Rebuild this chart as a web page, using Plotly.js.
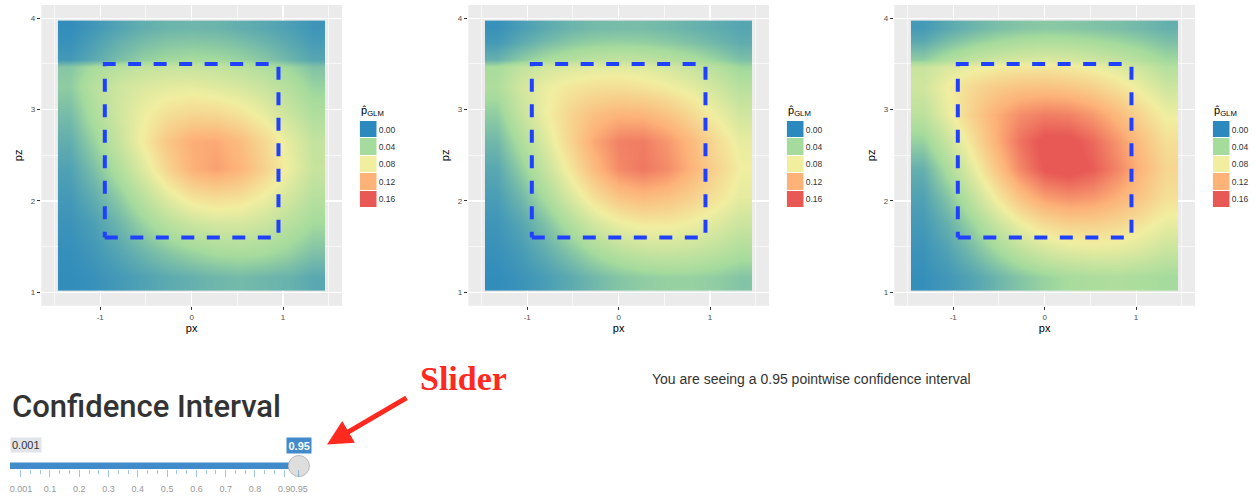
<!DOCTYPE html>
<html>
<head>
<meta charset="utf-8">
<script src="https://cdn.plot.ly/plotly-3.0.1.min.js"></script>
<style>
  html, body { margin: 0; padding: 0; background: #fff; }
  #myDiv { width: 1257px; height: 497px; }
</style>
</head>
<body>
<div id="myDiv"></div>
<script>
// grid of the fitted surface
var gridX = [-1.33, -1.065, -0.8, -0.533, -0.266, 0, 0.266, 0.533, 0.8, 1.065, 1.33];
var gridY = [1.16, 1.45, 1.75, 2.05, 2.35, 2.65, 2.95, 3.25, 3.47, 3.55, 3.75, 3.9];

// left panel
var probLower = [
  [0.002, 0.004, 0.008, 0.012, 0.016, 0.019, 0.022, 0.024, 0.022, 0.020, 0.015],
  [0.003, 0.007, 0.014, 0.022, 0.030, 0.037, 0.042, 0.044, 0.042, 0.036, 0.028],
  [0.005, 0.011, 0.022, 0.036, 0.050, 0.060, 0.065, 0.065, 0.060, 0.050, 0.040],
  [0.008, 0.018, 0.033, 0.052, 0.072, 0.088, 0.093, 0.090, 0.078, 0.064, 0.050],
  [0.012, 0.027, 0.047, 0.070, 0.097, 0.120, 0.128, 0.118, 0.098, 0.077, 0.058],
  [0.018, 0.036, 0.058, 0.082, 0.106, 0.122, 0.124, 0.113, 0.094, 0.074, 0.056],
  [0.025, 0.045, 0.063, 0.078, 0.090, 0.096, 0.095, 0.088, 0.075, 0.060, 0.046],
  [0.033, 0.050, 0.062, 0.069, 0.073, 0.074, 0.071, 0.066, 0.058, 0.048, 0.036],
  [0.030, 0.042, 0.050, 0.055, 0.058, 0.058, 0.056, 0.052, 0.046, 0.038, 0.028],
  [0.008, 0.016, 0.026, 0.034, 0.039, 0.041, 0.040, 0.036, 0.030, 0.022, 0.014],
  [0.004, 0.011, 0.019, 0.025, 0.029, 0.030, 0.029, 0.026, 0.021, 0.015, 0.009],
  [0.002, 0.007, 0.013, 0.018, 0.021, 0.022, 0.021, 0.018, 0.015, 0.011, 0.006]
];

// middle panel
var probFit = [
  [0.002, 0.005, 0.010, 0.016, 0.023, 0.029, 0.033, 0.035, 0.035, 0.033, 0.029],
  [0.004, 0.009, 0.018, 0.029, 0.041, 0.051, 0.057, 0.059, 0.057, 0.052, 0.045],
  [0.006, 0.014, 0.028, 0.046, 0.064, 0.077, 0.083, 0.083, 0.078, 0.070, 0.060],
  [0.010, 0.023, 0.043, 0.067, 0.090, 0.108, 0.114, 0.110, 0.100, 0.088, 0.074],
  [0.015, 0.034, 0.058, 0.085, 0.114, 0.138, 0.146, 0.137, 0.118, 0.098, 0.080],
  [0.023, 0.045, 0.070, 0.097, 0.124, 0.142, 0.144, 0.132, 0.114, 0.093, 0.075],
  [0.033, 0.057, 0.079, 0.097, 0.111, 0.118, 0.117, 0.109, 0.094, 0.078, 0.063],
  [0.045, 0.064, 0.077, 0.085, 0.089, 0.090, 0.087, 0.081, 0.073, 0.062, 0.050],
  [0.042, 0.055, 0.064, 0.069, 0.072, 0.072, 0.070, 0.065, 0.058, 0.049, 0.038],
  [0.020, 0.032, 0.042, 0.049, 0.053, 0.055, 0.054, 0.050, 0.044, 0.036, 0.027],
  [0.008, 0.016, 0.024, 0.030, 0.034, 0.035, 0.034, 0.031, 0.027, 0.022, 0.017],
  [0.004, 0.010, 0.016, 0.021, 0.024, 0.025, 0.025, 0.023, 0.020, 0.017, 0.014]
];

// right panel
var probUpper = [
  [0.003, 0.007, 0.013, 0.021, 0.029, 0.036, 0.041, 0.044, 0.045, 0.043, 0.040],
  [0.005, 0.012, 0.024, 0.038, 0.052, 0.063, 0.069, 0.072, 0.071, 0.066, 0.058],
  [0.008, 0.019, 0.037, 0.058, 0.078, 0.093, 0.100, 0.100, 0.095, 0.086, 0.075],
  [0.012, 0.029, 0.054, 0.083, 0.110, 0.130, 0.136, 0.132, 0.120, 0.106, 0.090],
  [0.019, 0.043, 0.073, 0.106, 0.139, 0.162, 0.168, 0.158, 0.139, 0.116, 0.096],
  [0.035, 0.058, 0.088, 0.120, 0.148, 0.165, 0.165, 0.152, 0.132, 0.110, 0.090],
  [0.052, 0.075, 0.100, 0.121, 0.136, 0.143, 0.141, 0.131, 0.114, 0.095, 0.078],
  [0.062, 0.080, 0.094, 0.103, 0.108, 0.109, 0.106, 0.099, 0.088, 0.075, 0.061],
  [0.058, 0.068, 0.076, 0.081, 0.084, 0.085, 0.083, 0.078, 0.070, 0.060, 0.048],
  [0.033, 0.045, 0.055, 0.062, 0.066, 0.068, 0.066, 0.062, 0.056, 0.048, 0.039],
  [0.016, 0.026, 0.034, 0.040, 0.044, 0.046, 0.045, 0.042, 0.038, 0.033, 0.027],
  [0.008, 0.015, 0.021, 0.026, 0.029, 0.031, 0.030, 0.028, 0.026, 0.023, 0.019]
];

var legendBreaks = [0, 0.04, 0.08, 0.12, 0.16];
var legendLabels = ['0.00', '0.04', '0.08', '0.12', '0.16'];

// strike zone box
var zoneX = [-0.95, 0.95, 0.95, -0.95, -0.95];
var zoneY = [1.6, 1.6, 3.5, 3.5, 1.6];

// slider
var sliderMin = 0.001;
var sliderValue = 0.95;
var sliderTicks = [0.001, 0.1, 0.2, 0.3, 0.4, 0.5, 0.6, 0.7, 0.8, 0.9, 0.95];
var sliderLabels = ['0.001', '0.1', '0.2', '0.3', '0.4', '0.5', '0.6', '0.7', '0.8', '0.9', '0.95'];

var W = 1257, H = 497;
function fx(p) { return p / W; }
function fy(p) { return 1 - p / H; }

var spectral = [
  [0, 'rgb(44,137,189)'],
  [0.25, 'rgb(165,219,157)'],
  [0.5, 'rgb(241,238,160)'],
  [0.75, 'rgb(253,178,120)'],
  [1, 'rgb(232,88,85)']
];

var panels = [probLower, probFit, probUpper];
var panelLeft = [41.3, 468.3, 894.3];
var panelW = 300.7;
var panelTop = 5, panelBottom = 305.7;

var data = [];
var layout = {
  width: W,
  height: H,
  margin: {l: 0, r: 0, t: 0, b: 0},
  paper_bgcolor: '#fff',
  plot_bgcolor: 'rgba(0,0,0,0)',
  font: {family: 'Liberation Sans, Arial, sans-serif', color: '#333'},
  showlegend: false,
  shapes: [],
  annotations: []
};

panels.forEach(function (z, i) {
  var n = i + 1;
  var sx = n === 1 ? '' : String(n);
  var lx = String(n + 3);
  var left = panelLeft[i];

  data.push({
    type: 'heatmap',
    x: gridX, y: gridY, z: z,
    xaxis: 'x' + sx, yaxis: 'y' + sx,
    colorscale: spectral, zmin: 0, zmax: 0.16,
    zsmooth: 'best', showscale: false, hoverinfo: 'skip'
  });
  data.push({
    type: 'scatter', mode: 'lines',
    x: zoneX, y: zoneY,
    xaxis: 'x' + sx, yaxis: 'y' + sx,
    line: {color: '#2040ff', width: 4, dash: '13px,12.5px'},
    hoverinfo: 'skip'
  });
  // legend keys
  data.push({
    type: 'heatmap',
    x: [0], y: legendLabels,
    z: legendBreaks.map(function (v) { return [v]; }),
    xaxis: 'x' + lx, yaxis: 'y' + lx,
    colorscale: spectral, zmin: 0, zmax: 0.16,
    ygap: 1, showscale: false, hoverinfo: 'skip'
  });

  layout['xaxis' + sx] = {
    domain: [fx(left), fx(left + panelW)],
    range: [-1.645, 1.645],
    anchor: 'y' + sx,
    tickvals: [-1, 0, 1], ticktext: ['-1', '0', '1'],
    ticks: 'outside', ticklen: 3.5, tickwidth: 1, tickcolor: '#333',
    tickfont: {size: 8, color: '#4d4d4d'},
    showgrid: true, gridcolor: '#fff', gridwidth: 1.1,
    minor: {tickvals: [-1.5, -0.5, 0.5, 1.5], showgrid: true, gridcolor: '#fff', gridwidth: 0.6, ticks: ''},
    zeroline: false, showline: false, fixedrange: true,
    title: {text: 'px', font: {size: 11, color: '#000'}, standoff: 3}
  };
  layout['yaxis' + sx] = {
    domain: [fy(panelBottom), fy(panelTop)],
    range: [0.853, 4.146],
    anchor: 'x' + sx,
    tickvals: [1, 2, 3, 4], ticktext: ['1', '2', '3', '4'],
    ticks: 'outside', ticklen: 3.5, tickwidth: 1, tickcolor: '#333',
    tickfont: {size: 8, color: '#4d4d4d'},
    showgrid: true, gridcolor: '#fff', gridwidth: 1.1,
    minor: {tickvals: [1.5, 2.5, 3.5], showgrid: true, gridcolor: '#fff', gridwidth: 0.6, ticks: ''},
    zeroline: false, showline: false, fixedrange: true,
    title: {text: 'pz', font: {size: 11, color: '#000'}, standoff: 5}
  };
  layout.shapes.push({
    type: 'rect', xref: 'x' + sx + ' domain', yref: 'y' + sx + ' domain',
    x0: 0, x1: 1, y0: 0, y1: 1,
    fillcolor: '#ebebeb', line: {width: 0}, layer: 'below'
  });

  var keyLeft = left + panelW + 17.7;
  layout['xaxis' + lx] = {
    domain: [fx(keyLeft), fx(keyLeft + 17)],
    range: [-0.5, 0.5], anchor: 'y' + lx, visible: false, fixedrange: true
  };
  layout['yaxis' + lx] = {
    domain: [fy(208), fy(121)],
    type: 'category', autorange: 'reversed', side: 'right', anchor: 'x' + lx,
    showgrid: false, zeroline: false, showline: false, ticks: '',
    tickfont: {size: 8.5, color: '#333'}, ticklabelstandoff: 1, fixedrange: true
  };
  layout.annotations.push({
    xref: 'paper', yref: 'paper', x: fx(keyLeft - 1), y: fy(111),
    xanchor: 'left', yanchor: 'middle', showarrow: false,
    text: 'p\u0302<sub>GLM</sub>', font: {size: 11, color: '#000'}
  });
});

// slider widget
data.push({
  type: 'scatter', mode: 'lines',
  x: [-0.0365, sliderValue], y: [0, 0],
  xaxis: 'x7', yaxis: 'y7',
  line: {color: '#428bca', width: 7},
  cliponaxis: false, hoverinfo: 'skip'
});
data.push({
  type: 'scatter', mode: 'markers',
  x: [sliderValue], y: [0],
  xaxis: 'x7', yaxis: 'y7',
  marker: {size: 21, color: '#dedede', line: {color: '#b8b8b8', width: 1}},
  cliponaxis: false, hoverinfo: 'skip'
});

var sliderMinor = [];
for (var k = 0; k < sliderTicks.length - 2; k++) {
  var a = sliderTicks[k], b = sliderTicks[k + 1];
  sliderMinor.push(a + (b - a) / 3, a + 2 * (b - a) / 3);
}

layout.xaxis7 = {
  domain: [fx(10), fx(320)],
  range: [-0.0365, 1.022],
  anchor: 'y7',
  tickvals: sliderTicks, ticktext: sliderLabels, tickangle: 0,
  ticks: 'outside', ticklen: 7, tickwidth: 1, tickcolor: 'rgba(66,139,202,0.5)',
  tickfont: {size: 9, color: '#999'}, ticklabelstandoff: 4,
  minor: {tickvals: sliderMinor, ticks: 'outside', ticklen: 4, tickwidth: 1, tickcolor: 'rgba(66,139,202,0.5)', showgrid: false},
  showgrid: false, zeroline: false, showline: false, fixedrange: true
};
layout.yaxis7 = {
  domain: [fy(469), fy(429)],
  range: [-0.3, 3.7], anchor: 'x7', visible: false, fixedrange: true
};

layout.annotations.push(
  {
    xref: 'x7', yref: 'y7', x: sliderMin, y: 0, xshift: -11, yshift: 21,
    xanchor: 'left', yanchor: 'middle', showarrow: false,
    text: String(sliderMin), bgcolor: '#e1e4e9', borderpad: 1,
    font: {size: 11, color: '#333'}
  },
  {
    xref: 'x7', yref: 'y7', x: sliderValue, y: 0, yshift: 21,
    xanchor: 'center', yanchor: 'middle', showarrow: false,
    text: String(sliderValue), bgcolor: '#428bca', borderpad: 1.5,
    font: {size: 11, color: '#fff', weight: 'bold'}
  },
  {
    xref: 'paper', yref: 'paper', x: fx(10), y: fy(406),
    xanchor: 'left', yanchor: 'middle', showarrow: false,
    text: 'Confidence Interval',
    font: {family: 'Roboto, Liberation Sans, sans-serif', size: 31, color: '#333', weight: 500}
  },
  {
    xref: 'paper', yref: 'paper', x: fx(650), y: fy(379),
    xanchor: 'left', yanchor: 'middle', showarrow: false,
    text: 'You are seeing a ' + sliderValue + ' pointwise confidence interval',
    font: {size: 14, color: '#333'}
  },
  {
    xref: 'paper', yref: 'paper', x: fx(417.7), y: fy(378),
    xanchor: 'left', yanchor: 'middle', showarrow: false,
    text: 'Slider',
    font: {family: 'Liberation Serif, Times New Roman, serif', size: 34, color: '#ff2a1f', weight: 'bold'}
  },
  {
    xref: 'paper', yref: 'paper', x: fx(327), y: fy(444.5),
    ax: 81, ay: -47.5, text: '', showarrow: true,
    arrowhead: 2, arrowsize: 1, arrowwidth: 5, arrowcolor: '#ff2a1f'
  }
);

Plotly.newPlot('myDiv', data, layout, {displayModeBar: false, staticPlot: true});
</script>
</body>
</html>
